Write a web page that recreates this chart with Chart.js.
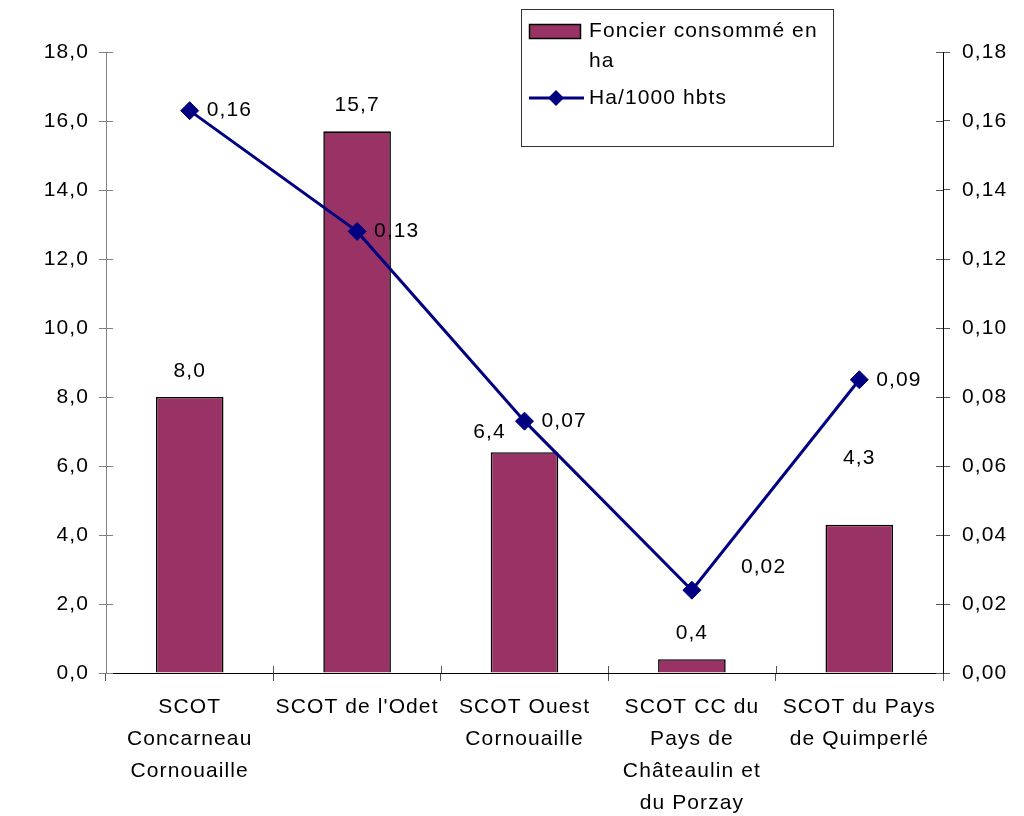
<!DOCTYPE html>
<html lang="fr">
<head>
<meta charset="utf-8">
<title>Foncier consommé par SCOT</title>
<script src="https://cdn.jsdelivr.net/npm/chart.js@4.4.1/dist/chart.umd.min.js"></script>
<style>
  html, body { margin: 0; padding: 0; background: #ffffff; }
  #wrap { width: 1024px; height: 816px; }
  canvas { display: block; background: #ffffff; }
</style>
</head>
<body>
<div id="wrap"><canvas id="chart" width="1024" height="816"></canvas></div>
<script>
// Territories (multi-line category labels)
const categories = [
  ['SCOT', 'Concarneau', 'Cornouaille'],
  ["SCOT de l'Odet"],
  ['SCOT Ouest', 'Cornouaille'],
  ['SCOT CC du', 'Pays de', 'Châteaulin et', 'du Porzay'],
  ['SCOT du Pays', 'de Quimperlé']
];

// Land consumed, in hectares (left axis)
const foncierHa = [8.0, 15.7, 6.4, 0.4, 4.3];

// Hectares per 1000 inhabitants (right axis)
const haPer1000 = [0.163, 0.128, 0.073, 0.024, 0.085];

// Series names
const seriesNames = ['Foncier consommé en ha', 'Ha/1000 hbts'];

// Axis ranges
const leftAxis = { min: 0, max: 18, step: 2 };
const rightAxis = { min: 0, max: 0.18, step: 0.02 };

const FONT_FAMILY = '"Liberation Sans", Arial, sans-serif';
const FONT_SIZE = 21;
const LETTER_SPACING = '1.1px';
const BAR_COLOR = '#993366';
const LINE_COLOR = '#000080';

const fr = (v, d) => v.toFixed(d).replace('.', ',');

// Wider glyph spacing for all canvas text
const spacingPlugin = {
  id: 'spacing',
  beforeLayout(chart) { chart.ctx.letterSpacing = LETTER_SPACING; },
  beforeDraw(chart) { chart.ctx.letterSpacing = LETTER_SPACING; }
};

// Tick marks that cross each axis line into the plot area
const innerTicks = {
  id: 'innerTicks',
  afterDraw(chart) {
    const { ctx, chartArea } = chart;
    const y = chart.scales.y, y1 = chart.scales.y1, x = chart.scales.x;
    ctx.save();
    ctx.lineWidth = 1;
    ctx.strokeStyle = '#808080';
    y.ticks.forEach((t, i) => {
      const py = Math.round(y.getPixelForTick(i)) + 0.5;
      ctx.beginPath(); ctx.moveTo(chartArea.left, py); ctx.lineTo(chartArea.left + 7, py); ctx.stroke();
    });
    ctx.strokeStyle = '#555555';
    y1.ticks.forEach((t, i) => {
      const py = Math.round(y1.getPixelForTick(i)) + 0.5;
      ctx.beginPath(); ctx.moveTo(chartArea.right - 7, py); ctx.lineTo(chartArea.right, py); ctx.stroke();
    });
    const n = x.ticks.length;
    for (let i = 1; i < n; i++) {
      const px = Math.round((x.getPixelForTick(i - 1) + x.getPixelForTick(i)) / 2) + 0.5;
      ctx.beginPath(); ctx.moveTo(px, chartArea.bottom - 7); ctx.lineTo(px, chartArea.bottom); ctx.stroke();
    }
    ctx.restore();
  }
};

// Value labels on bars and line points
const valueLabels = {
  id: 'valueLabels',
  afterDatasetsDraw(chart, args, opts) {
    const { ctx } = chart;
    ctx.save();
    ctx.font = `${FONT_SIZE}px ${FONT_FAMILY}`;
    ctx.fillStyle = '#000000';
    ctx.textBaseline = 'middle';
    const barMeta = chart.getDatasetMeta(0);
    barMeta.data.forEach((bar, i) => {
      const nudge = opts.barNudge[i] || [0, 0];
      ctx.textAlign = 'center';
      ctx.fillText(fr(foncierHa[i], 1), bar.x + nudge[0], bar.y - 26 + nudge[1]);
    });
    const lineMeta = chart.getDatasetMeta(1);
    lineMeta.data.forEach((pt, i) => {
      const nudge = opts.lineNudge[i] || [0, 0];
      ctx.textAlign = 'left';
      ctx.fillText(fr(haPer1000[i], 2), pt.x + 17 + nudge[0], pt.y + nudge[1]);
    });
    ctx.restore();
  }
};

// Framed legend in the upper right of the plot
const boxLegend = {
  id: 'boxLegend',
  afterDraw(chart) {
    const { ctx } = chart;
    const bx = 521.5, by = 9.5, bw = 312, bh = 137;
    ctx.save();
    ctx.fillStyle = '#ffffff';
    ctx.fillRect(bx, by, bw, bh);
    ctx.strokeStyle = '#333333';
    ctx.lineWidth = 1;
    ctx.strokeRect(bx, by, bw, bh);

    ctx.font = `${FONT_SIZE}px ${FONT_FAMILY}`;
    ctx.textBaseline = 'middle';
    ctx.textAlign = 'left';
    const textX = 589;
    const maxW = bx + bw - textX - 2;

    // bar swatch
    ctx.fillStyle = BAR_COLOR;
    ctx.fillRect(529.5, 24.5, 51, 14);
    ctx.strokeStyle = '#000000';
    ctx.lineWidth = 1.5;
    ctx.strokeRect(529.5, 24.5, 51, 14);

    // wrap first series name
    const words = seriesNames[0].split(' ');
    const lines = [];
    let cur = '';
    words.forEach(w => {
      const test = cur ? cur + ' ' + w : w;
      if (ctx.measureText(test).width > maxW && cur) { lines.push(cur); cur = w; }
      else cur = test;
    });
    if (cur) lines.push(cur);
    ctx.fillStyle = '#000000';
    lines.forEach((l, i) => ctx.fillText(l, textX, 31 + i * 30));

    // line swatch
    const ly = 98;
    ctx.strokeStyle = LINE_COLOR;
    ctx.lineWidth = 3;
    ctx.beginPath(); ctx.moveTo(529, ly); ctx.lineTo(584, ly); ctx.stroke();
    ctx.fillStyle = LINE_COLOR;
    const r = 8, cx = 556;
    ctx.beginPath();
    ctx.moveTo(cx, ly - r); ctx.lineTo(cx + r, ly); ctx.lineTo(cx, ly + r); ctx.lineTo(cx - r, ly);
    ctx.closePath(); ctx.fill();
    ctx.fillStyle = '#000000';
    ctx.fillText(seriesNames[1], textX, ly);
    ctx.restore();
  }
};

const tickFont = { family: FONT_FAMILY, size: FONT_SIZE, lineHeight: 32 / FONT_SIZE };

new Chart(document.getElementById('chart'), {
  type: 'bar',
  data: {
    labels: categories,
    datasets: [
      {
        type: 'bar',
        label: seriesNames[0],
        data: foncierHa,
        backgroundColor: BAR_COLOR,
        borderColor: '#000000',
        borderWidth: 1.6,
        barPercentage: 0.404,
        categoryPercentage: 1,
        yAxisID: 'y',
        order: 2
      },
      {
        type: 'line',
        label: seriesNames[1],
        data: haPer1000,
        borderColor: LINE_COLOR,
        backgroundColor: LINE_COLOR,
        borderWidth: 3,
        pointStyle: 'rectRot',
        pointRadius: 9,
        pointBorderWidth: 1,
        pointBackgroundColor: LINE_COLOR,
        pointBorderColor: LINE_COLOR,
        tension: 0,
        yAxisID: 'y1',
        order: 1
      }
    ]
  },
  options: {
    responsive: false,
    animation: false,
    devicePixelRatio: 1,
    events: [],
    layout: { padding: { top: 52, left: 0, right: 0, bottom: 0 } },
    plugins: {
      legend: { display: false },
      tooltip: { enabled: false },
      valueLabels: {
        barNudge: [[0, 0], [0, 0], [-35, 6], [0, 0], [0, -40]],
        lineNudge: [[0, 0], [0, 0], [0, 0], [32, -23], [0, 0]]
      }
    },
    scales: {
      x: {
        type: 'category',
        offset: true,
        grid: { display: true, offset: true, drawOnChartArea: false, drawTicks: true, tickLength: 8, color: '#555555' },
        border: { display: true, color: '#000000', width: 1 },
        ticks: { font: tickFont, color: '#000000', padding: 10, maxRotation: 0, autoSkip: false },
        afterFit(scale) { scale.height = 143; }
      },
      y: {
        position: 'left',
        min: leftAxis.min, max: leftAxis.max,
        grid: { display: true, drawOnChartArea: false, drawTicks: true, tickLength: 7, color: '#808080' },
        border: { display: true, color: '#808080', width: 1 },
        ticks: {
          stepSize: leftAxis.step,
          font: { family: FONT_FAMILY, size: FONT_SIZE },
          color: '#000000',
          padding: 10,
          callback: v => fr(v, 1)
        },
        afterFit(scale) { scale.width = 106; }
      },
      y1: {
        position: 'right',
        min: rightAxis.min, max: rightAxis.max,
        grid: { display: true, drawOnChartArea: false, drawTicks: true, tickLength: 7, color: '#555555' },
        border: { display: true, color: '#000000', width: 1 },
        ticks: {
          stepSize: rightAxis.step,
          font: { family: FONT_FAMILY, size: FONT_SIZE },
          color: '#000000',
          padding: 12,
          callback: v => fr(v, 2)
        },
        afterFit(scale) { scale.width = 81; }
      }
    }
  },
  plugins: [spacingPlugin, innerTicks, valueLabels, boxLegend]
});
</script>
</body>
</html>
